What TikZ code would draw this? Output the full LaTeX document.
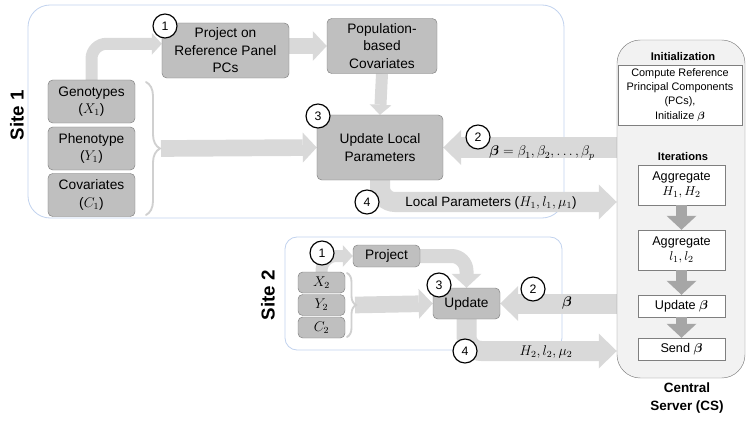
\documentclass[tikz,border=0pt]{standalone}
\usepackage{amsmath,amssymb}
\usepackage{fontspec}
\setmainfont{Liberation Sans}
\usetikzlibrary{arrows.meta,decorations.pathreplacing}

\definecolor{boxfill}{HTML}{BFBFBF}
\definecolor{boxline}{HTML}{7F7F7F}
\definecolor{bandgray}{HTML}{D9D9D9}
\definecolor{csarrow}{HTML}{A6A6A6}
\definecolor{csfill}{HTML}{F2F2F2}
\definecolor{siteline}{HTML}{C2D3EE}

\pgfdeclarelayer{frames}
\pgfdeclarelayer{bands}
\pgfsetlayers{frames,bands,main}

\tikzset{
  databox/.style={draw=boxline, fill=boxfill, rounded corners=4pt, align=center,
    inner sep=1pt, font=\fontsize{11.7}{15}\selectfont},
  stepnum/.style={circle, draw, line width=1pt, fill=white, minimum size=0.72cm,
    inner sep=0pt, font=\fontsize{10.5}{12}\selectfont},
  sitelabel/.style={rotate=90, font=\fontsize{16}{18}\bfseries},
  siteframe/.style={draw=siteline, line width=0.7pt},
  band/.style={draw=bandgray, line width=0.5cm, rounded corners=0.45cm,
    -{Triangle[length=0.42cm, width=0.9cm, line width=0pt]}},
  thinband/.style={line width=0.36cm, -{Triangle[length=0.3cm, width=0.66cm, line width=0pt]}},
  wideband/.style={line width=0.6cm, -{Triangle[length=0.54cm, width=1.05cm, line width=0pt]}},
  inbrace/.style={draw=bandgray!90!gray, line width=1.6pt, line cap=round,
    decorate, decoration={brace, amplitude=#1}},
  csbox/.style={draw=boxline, fill=white, align=center, inner sep=1pt},
  csstep/.style={draw=csarrow, line width=0.33cm,
    -{Triangle[length=0.42cm, width=0.9cm, line width=0pt]}},
  bandtext/.style={font=\fontsize{11.5}{14}\selectfont}
}

\begin{document}
\begin{tikzpicture}[x=0.03cm, y=-0.03cm]
  \useasboundingbox (0,0) rectangle (747,422);

  % site frames
  \begin{pgfonlayer}{frames}
    \draw[siteframe, rounded corners=0.66cm] (28,5) rectangle (564,218);
    \draw[siteframe, rounded corners=0.36cm] (285,237) rectangle (562,350);
  \end{pgfonlayer}

  %%% Site 1
  \node[sitelabel] at (17,115) (site1) {Site 1};

  \node[databox, minimum width=2.61cm, minimum height=1.29cm] at (91.5,101.5) (geno)  {Genotypes\\($X_1$)};
  \node[databox, minimum width=2.61cm, minimum height=1.29cm] at (91.5,148.5) (pheno) {Phenotype\\($Y_1$)};
  \node[databox, minimum width=2.61cm, minimum height=1.29cm] at (91.5,195)   (covar) {Covariates\\($C_1$)};

  \node[databox, minimum width=3.81cm, minimum height=1.65cm] at (225.5,50.5) (proj1)  {Project on\\Reference Panel\\PCs};
  \node[databox, minimum width=3.3cm,  minimum height=1.65cm] at (382,46)     (popcov) {Population-\\based\\Covariates};
  \node[databox, minimum width=3.78cm, minimum height=1.95cm] at (380,147.5)  (upd1)   {Update Local\\Parameters};

  \draw[inbrace=0.42cm] (146,82) -- (146,215);
  \coordinate (brc1) at (161,148.5);

  %%% Site 2
  \node[sitelabel] at (268,295) (site2) {Site 2};

  \node[databox, minimum width=1.41cm, minimum height=0.63cm] at (321.5,282.5) (x2) {$X_2$};
  \node[databox, minimum width=1.41cm, minimum height=0.63cm] at (321.5,305)   (y2) {$Y_2$};
  \node[databox, minimum width=1.41cm, minimum height=0.63cm] at (321.5,327.5) (c2) {$C_2$};

  \node[databox, minimum width=2.01cm, minimum height=0.66cm] at (386.5,256)   (proj2) {Project};
  \node[databox, minimum width=2.01cm, minimum height=0.93cm] at (466.5,303.5) (upd2)  {Update};

  \draw[inbrace=0.27cm] (347,273) -- (347,337);
  \coordinate (brc2) at (355,305);

  %%% Central server
  \node[draw=boxline, fill=csfill, rounded corners=0.7cm, minimum width=3.84cm,
        minimum height=10.14cm] at (681,209) (cs) {};
  \node[font=\fontsize{9.5}{11}\bfseries] at (683,57) (inithead) {Initialization};
  \node[csbox, minimum width=3.72cm, minimum height=1.8cm, font=\fontsize{9.3}{12}\selectfont]
        at (680,95) (init) {Compute Reference\\Principal Components\\(PCs),\\Initialize $\boldsymbol{\beta}$};
  \node[font=\fontsize{9.5}{11}\bfseries] at (683,157) (iterhead) {Iterations};

  \node[csbox, minimum width=2.61cm, minimum height=1.2cm,  font=\fontsize{10.8}{13}\selectfont] at (681.5,185) (agg1) {Aggregate\\$H_1,H_2$};
  \node[csbox, minimum width=2.61cm, minimum height=1.2cm,  font=\fontsize{10.8}{13}\selectfont] at (681.5,250) (agg2) {Aggregate\\$l_1,l_2$};
  \node[csbox, minimum width=2.61cm, minimum height=0.66cm, font=\fontsize{10.8}{13}\selectfont] at (681.5,306) (updb) {Update $\boldsymbol{\beta}$};
  \node[csbox, minimum width=2.61cm, minimum height=0.66cm, font=\fontsize{10.8}{13}\selectfont] at (681.5,349) (sendb) {Send $\boldsymbol{\beta}$};

  \draw[csstep] (agg1) -- (agg2);
  \draw[csstep] (agg2) -- (updb);
  \draw[csstep] (updb) -- (sendb);

  \node[align=center, font=\fontsize{11.5}{15}\bfseries] at (687,398) (cslabel) {Central\\Server (CS)};

  %%% step numbers
  \node[stepnum] at (165,26)  (s1one)   {1};
  \node[stepnum] at (478,137) (s1two)   {2};
  \node[stepnum] at (318,116) (s1three) {3};
  \node[stepnum] at (367,202) (s1four)  {4};

  \node[stepnum] at (322,253) (s2one)   {1};
  \node[stepnum] at (533,289) (s2two)   {2};
  \node[stepnum] at (439,285) (s2three) {3};
  \node[stepnum] at (465,351) (s2four)  {4};

  %%% data flow
  \begin{pgfonlayer}{bands}
    \draw[band, thinband] (geno.north) |- (proj1.174);
    \draw[band] (proj1.east |- popcov.west) -- (popcov.west);
    \draw[band, thinband] (popcov.south) -- (upd1.north);
    \draw[band] (brc1) -- (upd1.west);
    \draw[band, wideband] (cs.west |- upd1.east) -- (upd1.east);
    \draw[band, wideband] (upd1.south) |- (cs.west |- s1four);

    \draw[band, thinband] (x2.north) |- (proj2.west);
    \draw[band, line width=0.42cm] (proj2.east) -| (upd2.north);
    \draw[band] (brc2) -- (upd2.west);
    \draw[band, wideband] (cs.west |- upd2.east) -- (upd2.east);
    \draw[band, wideband] (upd2.south) |- (cs.west |- s2four);
  \end{pgfonlayer}

  \node[bandtext] at (542,153) (betalab1) {$\boldsymbol{\beta}=\beta_1,\beta_2,\ldots,\beta_p$};
  \node[bandtext] at (491,203) (locallab1) {Local Parameters ($H_1,l_1,\mu_1$)};
  \node[bandtext] at (567,303) (betalab2) {$\boldsymbol{\beta}$};
  \node[bandtext] at (546,352) (locallab2) {$H_2,l_2,\mu_2$};
\end{tikzpicture}
\end{document}
